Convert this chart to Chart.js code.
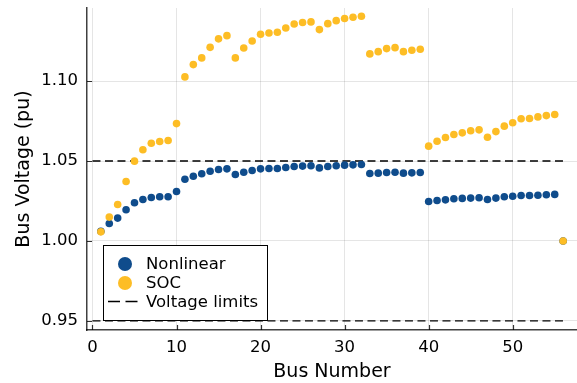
<!DOCTYPE html>
<html>
<head>
<meta charset="utf-8">
<script src="https://cdn.jsdelivr.net/npm/chart.js@4/dist/chart.umd.min.js"></script>
<style>
  html, body { margin: 0; padding: 0; background: #fff; }
  #wrap { width: 577px; height: 383px; }
</style>
</head>
<body>
<div id="wrap"><canvas id="chart" width="577" height="383"></canvas></div>
<script>
// --- data ---
const busNumbers = [1, 2, 3, 4, 5, 6, 7, 8, 9, 10, 11, 12, 13, 14, 15, 16, 17, 18, 19, 20,
  21, 22, 23, 24, 25, 26, 27, 28, 29, 30, 31, 32, 33, 34, 35, 36, 37, 38, 39, 40,
  41, 42, 43, 44, 45, 46, 47, 48, 49, 50, 51, 52, 53, 54, 55, 56];

const nonlinearV = [1.0060, 1.0109, 1.0143, 1.0195, 1.0239, 1.0259, 1.0272, 1.0276, 1.0276, 1.0309,
  1.0386, 1.0405, 1.0420, 1.0436, 1.0447, 1.0451, 1.0416, 1.0430, 1.0441, 1.0451,
  1.0453, 1.0453, 1.0459, 1.0466, 1.0468, 1.0470, 1.0457, 1.0466, 1.0470, 1.0474,
  1.0476, 1.0478, 1.0422, 1.0424, 1.0428, 1.0430, 1.0424, 1.0426, 1.0428, 1.0247,
  1.0253, 1.0257, 1.0264, 1.0266, 1.0268, 1.0270, 1.0259, 1.0268, 1.0276, 1.0280,
  1.0284, 1.0284, 1.0286, 1.0289, 1.0291, 1.0000];

const socV = [1.0057, 1.0149, 1.0228, 1.0372, 1.0499, 1.0570, 1.0611, 1.0622, 1.0628, 1.0734,
  1.1026, 1.1103, 1.1145, 1.1211, 1.1264, 1.1284, 1.1145, 1.1207, 1.1251, 1.1293,
  1.1301, 1.1305, 1.1332, 1.1357, 1.1366, 1.1370, 1.1322, 1.1359, 1.1378, 1.1391,
  1.1399, 1.1405, 1.1170, 1.1184, 1.1203, 1.1209, 1.1184, 1.1193, 1.1199, 1.0593,
  1.0624, 1.0647, 1.0666, 1.0676, 1.0689, 1.0695, 1.0649, 1.0684, 1.0718, 1.0739,
  1.0764, 1.0766, 1.0776, 1.0784, 1.0791, 1.0000];

const limitBus = [0, 56];
const upperLimit = 1.05;
const lowerLimit = 0.95;

const xTicks = [0, 10, 20, 30, 40, 50];
const yTicks = [0.95, 1.00, 1.05, 1.10];

const seriesNames = ["Nonlinear", "SOC", "Voltage limits"];

const BLUE = "#0f4c8c";
const GOLD = "#fdbd25";
const FONT = "'DejaVu Sans', sans-serif";

const pts = (ys) => busNumbers.map((b, i) => ({ x: b, y: ys[i] }));
const hline = (v) => limitBus.map(b => ({ x: b, y: v }));

// inward tick marks (Plots.jl style)
const innerTicks = {
  id: "innerTicks",
  afterDraw(chart) {
    const { ctx, chartArea: a, scales: { x, y } } = chart;
    ctx.save();
    ctx.strokeStyle = "rgba(0,0,0,0.8)";
    ctx.lineWidth = 1.2;
    ctx.beginPath();
    xTicks.forEach(t => {
      const px = Math.round(x.getPixelForValue(t)) + 0.5;
      ctx.moveTo(px, a.bottom); ctx.lineTo(px, a.bottom - 5);
    });
    yTicks.forEach(t => {
      const py = Math.round(y.getPixelForValue(t)) + 0.5;
      ctx.moveTo(a.left, py); ctx.lineTo(a.left + 5, py);
    });
    ctx.stroke();
    ctx.restore();
  }
};

// boxed legend in the lower left
const boxLegend = {
  id: "boxLegend",
  afterDraw(chart) {
    const { ctx } = chart;
    const bx = 103.5, by = 245.5, bw = 164, bh = 75;
    ctx.save();
    ctx.fillStyle = "#fff";
    ctx.fillRect(bx, by, bw, bh);
    ctx.strokeStyle = "#000";
    ctx.lineWidth = 1;
    ctx.strokeRect(bx, by, bw, bh);
    ctx.font = "16.5px " + FONT;
    ctx.textBaseline = "middle";
    const rows = [264, 283, 301.5];
    ctx.beginPath(); ctx.arc(125, rows[0], 7, 0, Math.PI * 2);
    ctx.fillStyle = BLUE; ctx.fill();
    ctx.beginPath(); ctx.arc(125, rows[1], 7, 0, Math.PI * 2);
    ctx.fillStyle = GOLD; ctx.fill();
    ctx.setLineDash([12, 5.5]);
    ctx.lineWidth = 1.3;
    ctx.beginPath(); ctx.moveTo(108, rows[2]); ctx.lineTo(138, rows[2]); ctx.stroke();
    ctx.setLineDash([]);
    ctx.fillStyle = "#000";
    ctx.fillText(seriesNames[0], 146, rows[0] + 1);
    ctx.fillText(seriesNames[1], 146, rows[1] + 1);
    ctx.fillText(seriesNames[2], 146, rows[2] + 1);
    ctx.restore();
  }
};

const limitStyle = {
  showLine: true, borderColor: "#000", borderWidth: 1.3, borderDash: [8, 4.5],
  pointRadius: 0, pointHoverRadius: 0, fill: false, order: 3
};

new Chart(document.getElementById("chart").getContext("2d"), {
  type: "scatter",
  data: {
    datasets: [
      { label: seriesNames[0], data: pts(nonlinearV), backgroundColor: BLUE, borderWidth: 0,
        pointRadius: 3.8, order: 1 },
      { label: seriesNames[1], data: pts(socV), backgroundColor: GOLD, borderWidth: 0,
        pointRadius: 3.8, order: 0 },
      { label: seriesNames[2], data: hline(upperLimit), ...limitStyle },
      { label: seriesNames[2], data: hline(lowerLimit), ...limitStyle }
    ]
  },
  options: {
    responsive: false,
    animation: false,
    layout: { autoPadding: false, padding: { top: 8, right: 0, left: 0, bottom: 0 } },
    plugins: { legend: { display: false }, tooltip: { enabled: false } },
    scales: {
      x: {
        type: "linear", min: -0.65, max: 57.65,
        afterBuildTicks: (s) => { s.ticks = xTicks.map(v => ({ value: v })); },
        afterFit: (s) => { s.height = 53; s.paddingLeft = 0; s.paddingRight = 0; },
        ticks: { color: "#000", font: { family: FONT, size: 16.5 }, padding: 8, maxRotation: 0 },
        grid: { color: "rgba(0,0,0,0.1)", lineWidth: 1, drawTicks: false },
        border: { color: "rgba(0,0,0,0.75)", width: 1.5 },
        title: { display: true, text: "Bus Number", color: "#000",
                 font: { family: FONT, size: 19 }, padding: { top: 0, bottom: 0 } }
      },
      y: {
        type: "linear", min: 0.9443, max: 1.1457,
        afterBuildTicks: (s) => { s.ticks = yTicks.map(v => ({ value: v })); },
        afterFit: (s) => { s.width = 87; s.paddingTop = 0; s.paddingBottom = 0; },
        ticks: { color: "#000", font: { family: FONT, size: 16.5 }, padding: 9,
                 callback: (v) => Number(v).toFixed(2) },
        grid: { color: "rgba(0,0,0,0.1)", lineWidth: 1, drawTicks: false },
        border: { color: "rgba(0,0,0,0.75)", width: 1.5 },
        title: { display: true, text: "Bus Voltage (pu)", color: "#000",
                 font: { family: FONT, size: 19 }, padding: { top: 13, bottom: 0 } }
      }
    }
  },
  plugins: [innerTicks, boxLegend]
});
</script>
</body>
</html>
